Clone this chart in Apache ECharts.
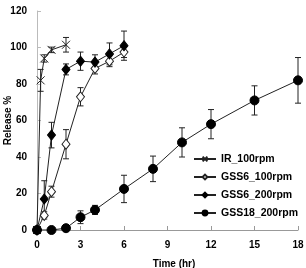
<!DOCTYPE html>
<html><head><meta charset="utf-8">
<script src="https://cdn.jsdelivr.net/npm/echarts@6/dist/echarts.min.js"></script>
<style>html,body{margin:0;padding:0;background:#fff}#c{width:306px;height:268px}</style>
</head><body><div id="c"></div>
<script>
var xTicks = [0, 3, 6, 9, 12, 15, 18];
var yTicks = [0, 20, 40, 60, 80, 100, 120];

var irTime = [0, 0.25, 0.5, 1, 2];
var irVal  = [0, 82, 94, 98.7, 101.5];
var irErr  = [0, 6, 2, 1.5, 4];

var g6aTime = [0, 0.5, 1, 2, 3, 4, 5, 6];
var g6aVal  = [0, 8, 21, 47, 73, 88.5, 92.5, 97.5];
var g6aErr  = [0, 2, 3, 8, 5, 3, 3, 3];

var g6bTime = [0, 0.5, 1, 2, 3, 4, 5, 6];
var g6bVal  = [0, 17, 52, 88, 92.5, 92, 96.5, 101];
var g6bErr  = [0, 10, 7, 3, 5, 4, 6, 8];

var g18Time = [0, 1, 2, 3, 4, 6, 8, 10, 12, 15, 18];
var g18Val  = [0, 0, 1, 7, 11, 22.5, 33.5, 48, 58, 71, 82];
var g18Err  = [0, 0, 0, 3.5, 2.5, 7.5, 7, 8, 8, 8, 12.5];

var names = ['IR_100rpm', 'GSS6_100rpm', 'GSS6_200rpm', 'GSS18_200rpm'];

function pts(t, v) { return t.map(function (x, i) { return [x, v[i]]; }); }
function errs(t, v, e) { return t.map(function (x, i) { return [x, v[i] - e[i], v[i] + e[i]]; }).filter(function (d) { return d[2] > d[1]; }); }

function errSeries(data) {
  return {
    type: 'custom', silent: true, z: 1,
    renderItem: function (params, api) {
      var lo = api.coord([api.value(0), api.value(1)]);
      var hi = api.coord([api.value(0), api.value(2)]);
      var w = 3;
      var st = { stroke: '#222', lineWidth: 1 };
      return { type: 'group', children: [
        { type: 'line', shape: { x1: lo[0], y1: lo[1], x2: hi[0], y2: hi[1] }, style: st },
        { type: 'line', shape: { x1: lo[0] - w, y1: lo[1], x2: lo[0] + w, y2: lo[1] }, style: st },
        { type: 'line', shape: { x1: hi[0] - w, y1: hi[1], x2: hi[0] + w, y2: hi[1] }, style: st }
      ]};
    },
    encode: { x: 0, y: [1, 2] },
    data: data
  };
}

var font = 'Liberation Sans, Arial, sans-serif';
var lineStyle = { color: '#222', width: 1 };

var chart = echarts.init(document.getElementById('c'));
chart.setOption({
  animation: false,
  textStyle: { fontFamily: font },
  grid: { left: 37, right: 8, top: 11, bottom: 38, containLabel: false, outerBoundsMode: 'none' },
  legend: {
    orient: 'vertical', left: 193, top: 153, padding: 0,
    itemWidth: 22, itemHeight: 6, itemGap: 6,
    textStyle: { fontFamily: font, fontWeight: 'bold', fontSize: 10.5, color: '#000', lineHeight: 12 },
    data: names
  },
  xAxis: {
    type: 'value', min: 0, max: 18, interval: 3,
    name: 'Time (hr)', nameLocation: 'middle', nameGap: 29, nameMoveOverlap: false,
    nameTextStyle: { fontFamily: font, fontWeight: 'bold', fontSize: 10, color: '#000', padding: [0, 0, 0, 13] },
    axisLine: { lineStyle: { color: '#999' } },
    axisTick: { inside: true, length: 4, lineStyle: { color: '#999' } },
    axisLabel: { margin: 10, fontFamily: font, fontWeight: 'bold', fontSize: 10, color: '#000',
      formatter: function (v) { return xTicks.indexOf(v) >= 0 ? String(v) : ''; } },
    splitLine: { show: false }
  },
  yAxis: {
    type: 'value', min: 0, max: 120, interval: 20,
    name: 'Release %', nameLocation: 'middle', nameGap: 24, nameRotate: 90, nameMoveOverlap: false,
    nameTextStyle: { fontFamily: font, fontWeight: 'bold', fontSize: 10, color: '#000' },
    axisLine: { show: true, lineStyle: { color: '#bbb' } },
    axisTick: { show: true, inside: true, length: 4, lineStyle: { color: '#bbb' } },
    axisLabel: { margin: 10, fontFamily: font, fontWeight: 'bold', fontSize: 10, color: '#000',
      formatter: function (v) { return yTicks.indexOf(v) >= 0 ? String(v) : ''; } },
    splitLine: { show: false }
  },
  series: [
    errSeries(errs(irTime, irVal, irErr)),
    errSeries(errs(g6aTime, g6aVal, g6aErr)),
    errSeries(errs(g6bTime, g6bVal, g6bErr)),
    errSeries(errs(g18Time, g18Val, g18Err)),
    { name: names[0], type: 'line', data: pts(irTime, irVal), z: 3,
      symbol: 'path://M0,0L10,10M10,0L0,10', symbolSize: 8, showAllSymbol: true,
      lineStyle: lineStyle, itemStyle: { color: 'rgba(0,0,0,0)', borderColor: '#222', borderWidth: 1 } },
    { name: names[1], type: 'line', data: pts(g6aTime, g6aVal), z: 3,
      symbol: 'diamond', symbolSize: [8, 10], showAllSymbol: true,
      lineStyle: lineStyle, itemStyle: { color: '#fff', borderColor: '#222', borderWidth: 1 } },
    { name: names[2], type: 'line', data: pts(g6bTime, g6bVal), z: 3,
      symbol: 'diamond', symbolSize: [8, 10], showAllSymbol: true,
      lineStyle: lineStyle, itemStyle: { color: '#000', borderColor: '#000', borderWidth: 1 } },
    { name: names[3], type: 'line', data: pts(g18Time, g18Val), z: 3,
      symbol: 'circle', symbolSize: 9, showAllSymbol: true,
      lineStyle: lineStyle, itemStyle: { color: '#000', borderColor: '#000', borderWidth: 1 } }
  ]
});
</script></body></html>
